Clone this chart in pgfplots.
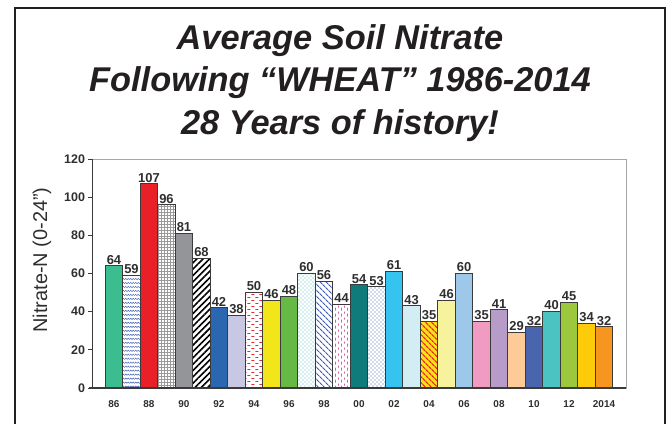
\documentclass[border=0pt]{standalone}
\usepackage{pgfplots}
\pgfplotsset{compat=1.18}
\usepackage{fontspec}
\setmainfont{Liberation Sans}
\usetikzlibrary{patterns,patterns.meta}

\definecolor{frame}{HTML}{231F20}
\definecolor{labeltext}{HTML}{2E2E2E}
\definecolor{barline}{HTML}{3A3A3A}
\definecolor{c0}{HTML}{3BBD8F}
\definecolor{c2}{HTML}{E92027}
\definecolor{c4}{HTML}{939598}
\definecolor{c6}{HTML}{2B66B0}
\definecolor{c7}{HTML}{C9C8E4}
\definecolor{c9}{HTML}{F2E61A}
\definecolor{c10}{HTML}{67B946}
\definecolor{c14}{HTML}{0F7C7B}
\definecolor{c16}{HTML}{35C4EF}
\definecolor{c17}{HTML}{D3EDF4}
\definecolor{c18}{HTML}{FFE014}
\definecolor{c19}{HTML}{F7F29C}
\definecolor{c20}{HTML}{9DC8EA}
\definecolor{c21}{HTML}{F19AC2}
\definecolor{c22}{HTML}{B79BC8}
\definecolor{c23}{HTML}{FDCB97}
\definecolor{c24}{HTML}{4965AE}
\definecolor{c25}{HTML}{4CC3C3}
\definecolor{c26}{HTML}{9BC83C}
\definecolor{c27}{HTML}{FDCB0A}
\definecolor{c28}{HTML}{F7961E}
\definecolor{pblue}{HTML}{3D5BB0}
\definecolor{pteal}{HTML}{4FC0C8}
\definecolor{ppink}{HTML}{D45DA8}
\definecolor{pred}{HTML}{E9262D}

\pgfdeclarepatternformonly{zigzag}{\pgfqpoint{-0.5pt}{-0.5pt}}{\pgfqpoint{5.5pt}{4.5pt}}{\pgfqpoint{5pt}{4pt}}{%
  \pgfsetlinewidth{0.45pt}%
  \pgfpathmoveto{\pgfqpoint{0pt}{0.8pt}}%
  \pgfpathlineto{\pgfqpoint{1.25pt}{2.2pt}}%
  \pgfpathlineto{\pgfqpoint{2.5pt}{0.8pt}}%
  \pgfpathlineto{\pgfqpoint{3.75pt}{2.2pt}}%
  \pgfpathlineto{\pgfqpoint{5pt}{0.8pt}}%
  \pgfusepath{stroke}}
\pgfdeclarepatternformonly{hdashes}{\pgfqpoint{0pt}{0pt}}{\pgfqpoint{8pt}{6pt}}{\pgfqpoint{8pt}{6pt}}{%
  \pgfsetlinewidth{0.8pt}%
  \pgfpathmoveto{\pgfqpoint{0.5pt}{1.5pt}}\pgfpathlineto{\pgfqpoint{3.5pt}{1.5pt}}%
  \pgfpathmoveto{\pgfqpoint{4.5pt}{4.5pt}}\pgfpathlineto{\pgfqpoint{7.5pt}{4.5pt}}%
  \pgfusepath{stroke}}
\pgfdeclarepatternformonly{vdashes}{\pgfqpoint{0pt}{0pt}}{\pgfqpoint{6pt}{6pt}}{\pgfqpoint{6pt}{6pt}}{%
  \pgfsetlinewidth{0.8pt}%
  \pgfpathmoveto{\pgfqpoint{1.5pt}{0.5pt}}\pgfpathlineto{\pgfqpoint{1.5pt}{3.5pt}}%
  \pgfpathmoveto{\pgfqpoint{4.5pt}{3.5pt}}\pgfpathlineto{\pgfqpoint{4.5pt}{5.5pt}}%
  \pgfusepath{stroke}}
\pgfdeclarepatternformonly{spots}{\pgfqpoint{0pt}{0pt}}{\pgfqpoint{4pt}{4pt}}{\pgfqpoint{4pt}{4pt}}{%
  \pgfpathcircle{\pgfqpoint{1pt}{1pt}}{0.65pt}%
  \pgfpathcircle{\pgfqpoint{3pt}{3pt}}{0.55pt}%
  \pgfusepath{fill}}

\pgfplotsset{B/.style={ybar, bar width=1, bar shift=0pt, draw=barline, line width=0.9bp}}

\begin{document}
\begin{tikzpicture}
\useasboundingbox (0bp,0bp) rectangle (670bp,424bp);
\draw[line width=2.5bp, color=frame] (15bp,-5bp) -- (15bp,416bp) -- (665bp,416bp) -- (665bp,-5bp);
\node[anchor=base, inner sep=0pt, font=\bfseries\itshape\fontsize{34.5}{34.5}\selectfont, text=frame] at (340bp,374bp) {Average Soil Nitrate};
\node[anchor=base, inner sep=0pt, font=\bfseries\itshape\fontsize{34.5}{34.5}\selectfont, text=frame] at (340bp,332bp) {Following “WHEAT” 1986-2014};
\node[anchor=base, inner sep=0pt, font=\bfseries\itshape\fontsize{34.5}{34.5}\selectfont, text=frame] at (340bp,289bp) {28 Years of history!};
\begin{axis}[
  at={(92bp,36bp)}, anchor=south west,
  scale only axis, width=534bp, height=229bp,
  xmin=-1.257, xmax=29.257, ymin=0, ymax=120,
  ytick={0,20,...,120},
  xtick={0,2,...,28},
  xticklabels={86,88,90,92,94,96,98,00,02,04,06,08,10,12,2014},
  tick align=outside, ytick pos=left, major tick length=3.5bp,
  xtick style={draw=none},
  ytick style={draw=barline, line width=0.8bp},
  /pgf/number format/assume math mode=true,
  yticklabel style={font=\bfseries\fontsize{12.5}{12.5}\selectfont, text=labeltext},
  xticklabel style={font=\bfseries\fontsize{10}{10}\selectfont, text=labeltext, yshift=-6bp},
  axis line style={draw=gray!70, line width=0.8bp},
  every axis y label/.style={at={(axis description cs:-0.0936,0.559)}, rotate=90, anchor=center},
  ylabel style={font=\fontsize{20}{20}\selectfont, text=labeltext},
  ylabel={Nitrate-N (0-24”)},
  nodes near coords,
  every node near coord/.append style={font=\bfseries\fontsize{13}{13}\selectfont, text=labeltext, anchor=south, inner sep=1.2bp},
  clip=false,
]
\addplot[B, fill=c0] coordinates {(0,64)};
\addplot[B, pattern=zigzag, pattern color=pblue] coordinates {(1,59)};
\addplot[B, fill=c2] coordinates {(2,107)};
\addplot[B, pattern=grid, pattern color=gray!80] coordinates {(3,96)};
\addplot[B, fill=c4] coordinates {(4,81)};
\addplot[B, pattern={Lines[angle=45,distance=4.5pt,line width=1.6pt]}, pattern color=black] coordinates {(5,68)};
\addplot[B, fill=c6] coordinates {(6,42)};
\addplot[B, fill=c7] coordinates {(7,38)};
\addplot[B, pattern=hdashes, pattern color=pred] coordinates {(8,50)};
\addplot[B, fill=c9] coordinates {(9,46)};
\addplot[B, fill=c10] coordinates {(10,48)};
\addplot[B, pattern=spots, pattern color=pteal] coordinates {(11,60)};
\addplot[B, pattern={Lines[angle=-45,distance=4pt,line width=1.1pt]}, pattern color=pblue] coordinates {(12,56)};
\addplot[B, pattern=vdashes, pattern color=ppink] coordinates {(13,44)};
\addplot[B, fill=c14] coordinates {(14,54)};
\addplot[B, pattern=spots, pattern color=pblue] coordinates {(15,53)};
\addplot[B, fill=c16] coordinates {(16,61)};
\addplot[B, fill=c17] coordinates {(17,43)};
\addplot[B, fill=c18, postaction={pattern color=pred, pattern={Lines[angle=-45,distance=4pt,line width=1.3pt]}}] coordinates {(18,35)};
\addplot[B, fill=c19] coordinates {(19,46)};
\addplot[B, fill=c20] coordinates {(20,60)};
\addplot[B, fill=c21] coordinates {(21,35)};
\addplot[B, fill=c22] coordinates {(22,41)};
\addplot[B, fill=c23] coordinates {(23,29)};
\addplot[B, fill=c24] coordinates {(24,32)};
\addplot[B, fill=c25] coordinates {(25,40)};
\addplot[B, fill=c26] coordinates {(26,45)};
\addplot[B, fill=c27] coordinates {(27,34)};
\addplot[B, fill=c28] coordinates {(28,32)};
\draw[line width=1bp, barline] (rel axis cs:0,1) -- (rel axis cs:0,0);
\draw[line width=2bp, barline] (rel axis cs:-0.005,0) -- (rel axis cs:1,0);
\end{axis}
\end{tikzpicture}
\end{document}
